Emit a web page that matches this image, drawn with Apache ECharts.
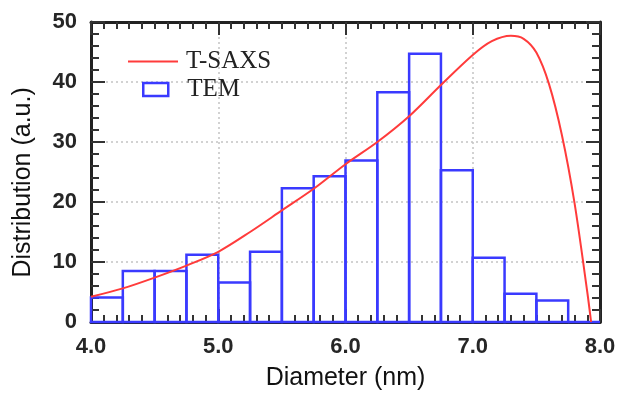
<!DOCTYPE html>
<html><head><meta charset="utf-8">
<script src="https://cdn.jsdelivr.net/npm/echarts@6/dist/echarts.min.js"></script>
<style>html,body{margin:0;padding:0;background:#fff}#c{width:622px;height:396px}</style>
</head><body><div id="c"></div>
<script>
// Histogram (TEM): bin starts, bin width, counts
const binStarts = [4.0,4.25,4.5,4.75,5.0,5.25,5.5,5.75,6.0,6.25,6.5,6.75,7.0,7.25,7.5,7.75];
const binWidth = 0.25;
const temCounts = [4.1,8.5,8.5,11.2,6.6,11.7,22.3,24.3,26.9,38.3,44.7,25.3,10.7,4.7,3.6,0];
// T-SAXS curve
const saxsX = [4.0,4.25,4.5,4.75,5.0,5.25,5.5,5.75,6.0,6.25,6.5,6.75,7.0,7.15,7.3,7.4,7.5,7.6,7.7,7.8,7.9,7.93];
const saxsY = [4.2,5.6,7.4,9.4,11.7,15.0,18.6,22.2,26.3,30.0,34.3,39.5,44.5,46.8,47.7,47.2,44.9,39.6,31.2,19.8,5.0,0];
const xTicks = [4.0,5.0,6.0,7.0,8.0];
const yTicks = [0,10,20,30,40,50];

const RED = '#ff3b3b', BLUE = '#3a3aff';
const histData = binStarts.map((s,i)=>[s, s+binWidth, temCounts[i]]);
const lineData = saxsX.map((x,i)=>[x, saxsY[i]]);

const chart = echarts.init(document.getElementById('c'));
const labelFont = {fontFamily:'Liberation Sans, Arial', fontWeight:'bold', fontSize:22, color:'#262626'};
const tickStyle = {color:'#333', width:2};
const tick = {show:true, inside:true, length:13, lineStyle:{...tickStyle}};
const minorX = {show:true, splitNumber:10, length:7, lineStyle:{...tickStyle}};
const minorY = {show:true, splitNumber:5, length:8, lineStyle:{...tickStyle}};
chart.setOption({
  animation:false,
  grid:{left:91, right:22, top:22, bottom:71, show:false},
  legend:[
    {data:[{name:'T-SAXS', icon:'path://M0,0 H50 V2 H0 Z', itemStyle:{color:RED}}],
     left:123, top:44, itemWidth:50, itemHeight:2.5,
     textStyle:{fontFamily:'Liberation Serif, Times New Roman, serif', fontSize:25, color:'#222', padding:[0,0,0,3]}},
    {data:[{name:'TEM', icon:'rect', itemStyle:{color:'rgba(0,0,0,0)', borderColor:BLUE, borderWidth:2.5}}],
     left:137, top:72, itemWidth:25, itemHeight:13,
     textStyle:{fontFamily:'Liberation Serif, Times New Roman, serif', fontSize:25, color:'#222', padding:[0,0,0,14]}}
  ],
  xAxis:[
    {type:'value', min:xTicks[0], max:xTicks[xTicks.length-1], interval:1,
     name:'Diameter (nm)', nameLocation:'middle', nameGap:44,
     nameTextStyle:{fontFamily:'Liberation Sans, Arial', fontSize:25, color:'#111'},
     axisLine:{show:true, onZero:false, lineStyle:{color:'#222', width:3}},
     axisTick:{...tick}, minorTick:{...minorX},
     axisLabel:{...labelFont, margin:14, formatter:v=>v.toFixed(1)},
     splitLine:{show:true, lineStyle:{type:[2,3], color:'#c4c4c4', width:1.5}}},
    {type:'value', position:'top', min:xTicks[0], max:xTicks[xTicks.length-1], interval:1,
     axisLine:{show:true, onZero:false, lineStyle:{color:'#222', width:3}},
     axisTick:{...tick}, minorTick:{...minorX},
     axisLabel:{show:false}, splitLine:{show:false}}
  ],
  yAxis:[
    {type:'value', min:yTicks[0], max:yTicks[yTicks.length-1], interval:10,
     name:'Distribution (a.u.)\u00a0\u00a0\u00a0', nameLocation:'middle', nameGap:55, nameRotate:90,
     nameTextStyle:{fontFamily:'Liberation Sans, Arial', fontSize:25, color:'#111'},
     axisLine:{show:true, onZero:false, lineStyle:{color:'#222', width:3}},
     axisTick:{...tick, length:14}, minorTick:{...minorY},
     axisLabel:{...labelFont, margin:14},
     splitLine:{show:true, lineStyle:{type:[2,3], color:'#c4c4c4', width:1.5}}},
    {type:'value', position:'right', min:yTicks[0], max:yTicks[yTicks.length-1], interval:10,
     axisLine:{show:true, onZero:false, lineStyle:{color:'#222', width:3}},
     axisTick:{...tick, length:14}, minorTick:{...minorY},
     axisLabel:{show:false}, splitLine:{show:false}}
  ],
  series:[
    {name:'TEM', type:'custom', xAxisIndex:0, yAxisIndex:0, data:histData,
     encode:{x:[0,1], y:2}, z:3,
     itemStyle:{color:'rgba(0,0,0,0)', borderColor:BLUE},
     renderItem:function(params, api){
       const p0 = api.coord([api.value(0), api.value(2)]);
       const p1 = api.coord([api.value(1), 0]);
       return {type:'rect', shape:{x:p0[0], y:p0[1], width:p1[0]-p0[0], height:p1[1]-p0[1]},
               style:{fill:'none', stroke:BLUE, lineWidth:2.5}};
     }},
    {name:'T-SAXS', type:'line', xAxisIndex:0, yAxisIndex:0, data:lineData, smooth:0.3,
     showSymbol:false, z:4, lineStyle:{color:RED, width:2}, itemStyle:{color:RED}}
  ]
});
</script></body></html>
